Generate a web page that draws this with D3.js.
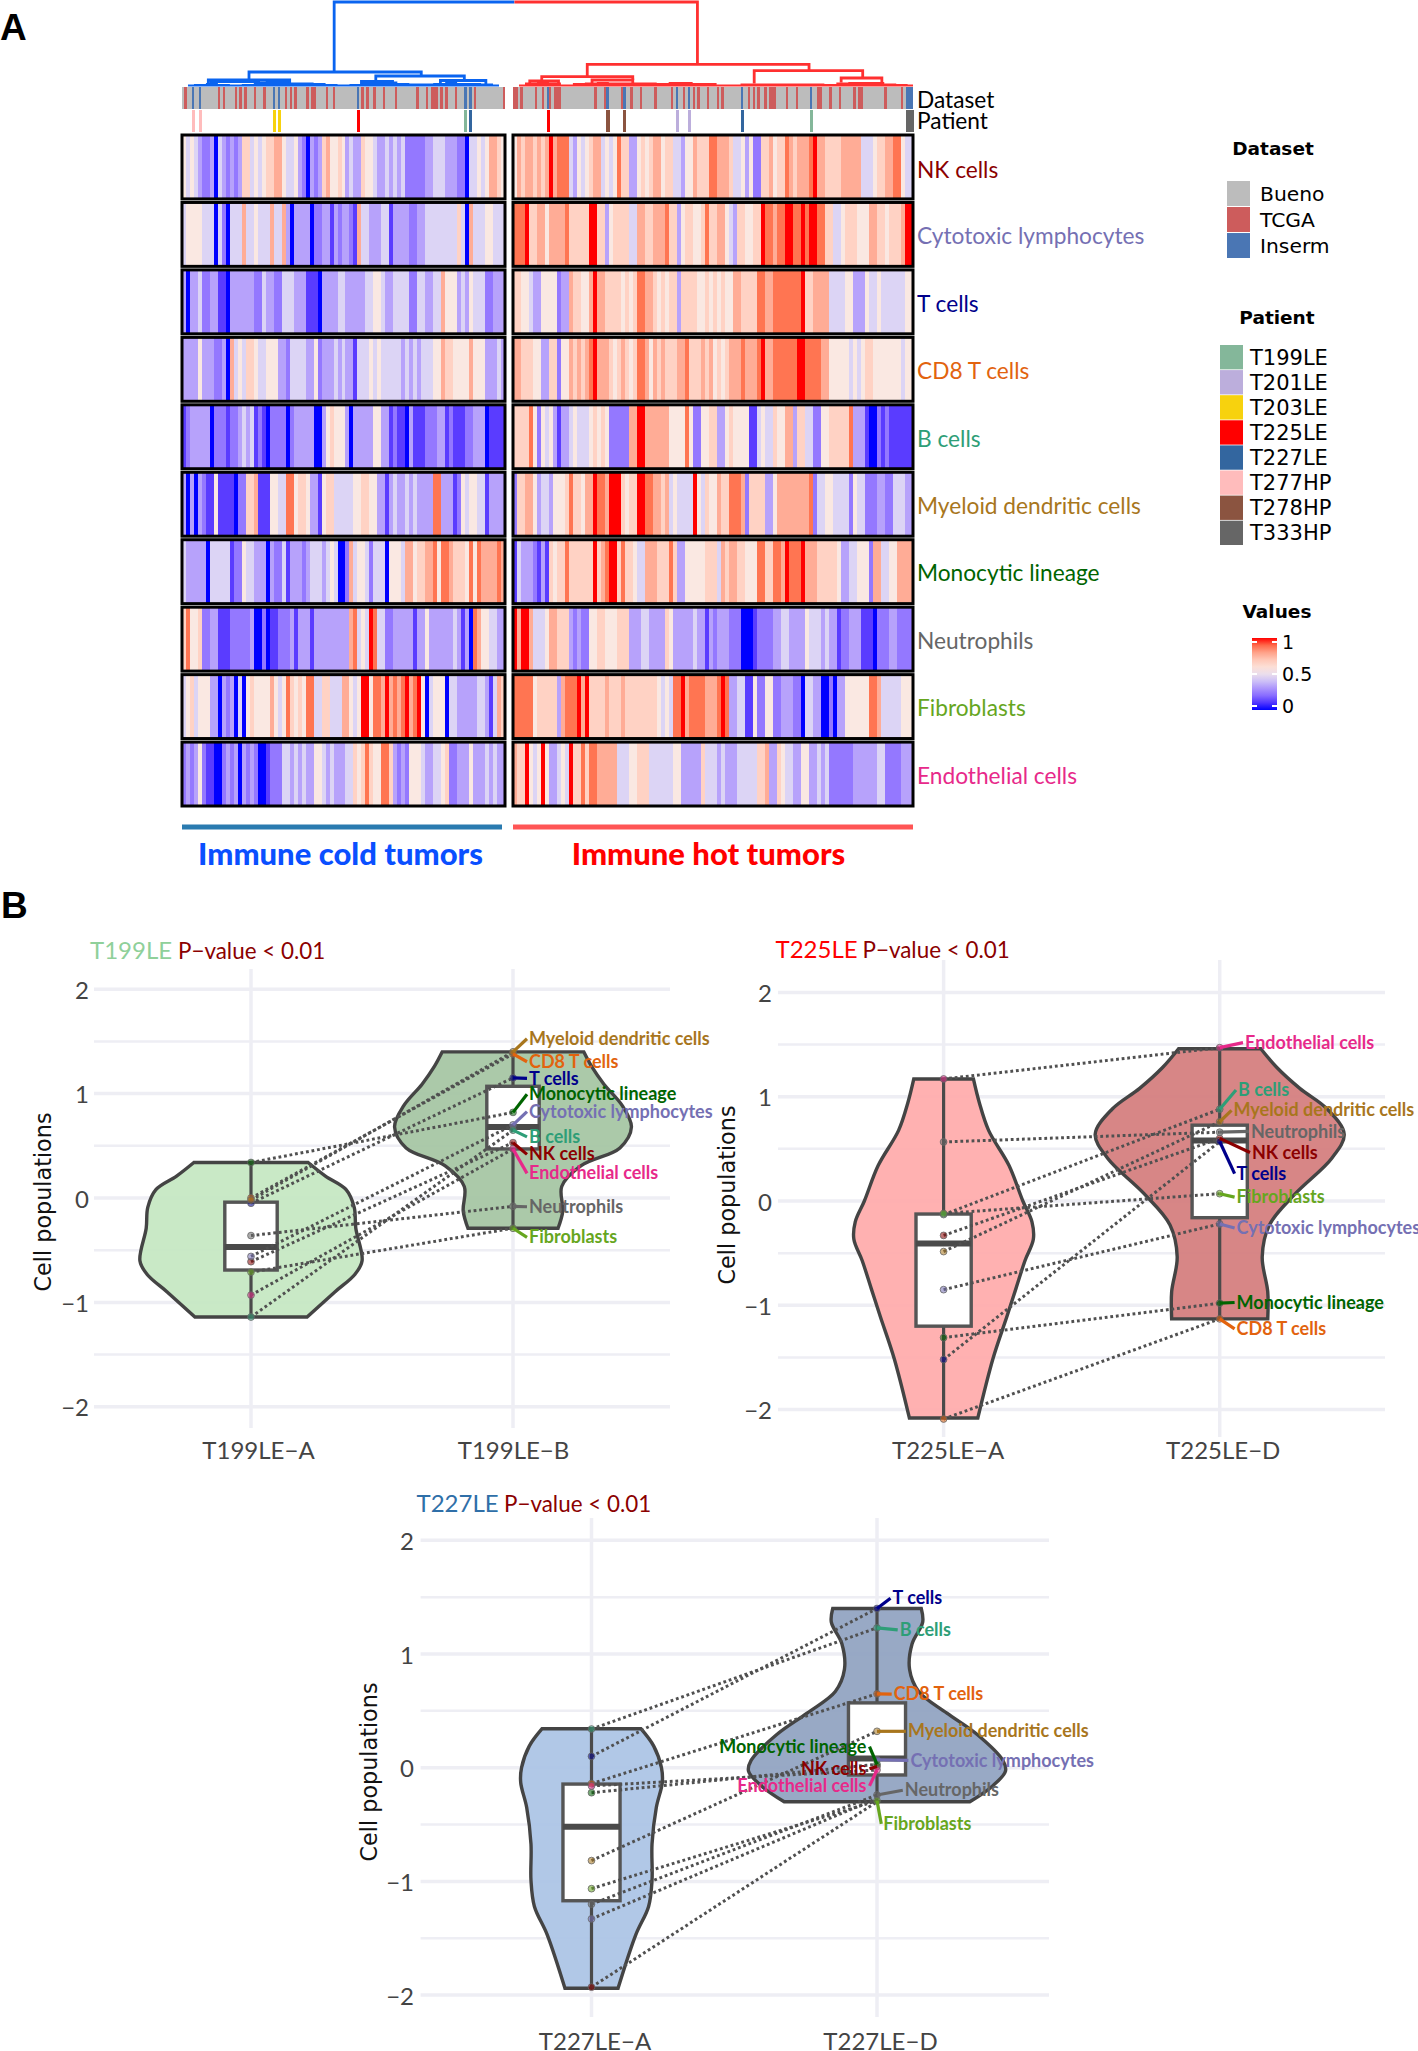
<!DOCTYPE html>
<html><head><meta charset="utf-8">
<script src="https://cdn.jsdelivr.net/npm/d3@7"></script>
<style>html,body{margin:0;padding:0;background:#fff}svg{display:block}</style>
</head><body><svg id="c" width="1418" height="2051"></svg>
<script>
// ---------- Heatmap values: deciles 0 (blue, low) to 9 (red, high), one list per cell population
const cellTypes = ["NK cells","Cytotoxic lymphocytes","T cells","CD8 T cells","B cells","Myeloid dendritic cells","Monocytic lineage","Neutrophils","Fibroblasts","Endothelial cells"];
const coldNK=[5,4,5,4,3,2,2,3,0,4,3,2,3,2,3,6,6,4,5,4,5,6,6,7,7,5,4,4,5,3,2,0,3,2,3,6,7,5,5,6,5,3,4,3,3,6,5,5,4,3,3,4,3,4,3,4,2,2,2,2,2,3,3,4,4,4,3,3,3,2,2,0,4,4,5,4,5,7,7,6,5];
const coldCyto=[4,5,5,5,5,4,4,4,0,4,2,0,4,4,4,7,4,4,5,4,4,4,7,4,4,7,3,0,3,3,3,3,0,2,2,3,3,1,3,2,3,3,2,1,7,4,4,3,3,3,4,4,1,3,3,3,3,2,2,3,3,4,4,4,4,4,4,4,4,6,4,0,7,4,4,4,5,5,4,4,4];
const coldT=[3,0,3,3,4,2,2,3,3,1,1,0,3,3,3,3,3,3,2,2,4,3,3,2,2,4,4,4,3,3,3,1,1,1,0,3,3,3,3,4,4,3,3,3,3,3,4,4,5,5,4,3,3,4,4,4,4,2,2,4,4,3,3,4,4,7,5,5,5,3,4,3,5,4,4,4,2,2,3,3,3];
const coldCD8=[3,3,3,3,5,3,3,3,2,2,3,0,7,4,5,4,6,6,5,4,4,5,5,5,3,3,2,4,4,4,4,3,3,5,2,3,3,3,4,3,4,3,3,1,4,4,4,5,4,5,4,4,4,4,4,3,4,3,4,3,4,4,4,5,5,7,6,6,5,5,5,5,7,5,5,5,3,3,3,4,3];
const coldB=[1,2,3,3,3,3,3,0,2,2,2,1,2,2,3,4,3,4,1,2,1,0,2,2,2,2,0,2,3,3,3,3,3,0,0,3,5,6,5,5,5,3,0,3,3,3,3,3,5,5,3,3,1,2,1,1,0,3,1,1,1,2,2,2,3,3,1,2,1,1,1,2,2,3,3,3,0,1,1,1,1];
const coldMyeloid=[3,0,3,0,3,2,1,1,5,1,1,1,1,0,2,2,6,6,7,1,1,1,5,5,4,4,8,8,5,6,6,5,3,3,1,5,6,6,4,4,4,4,4,5,5,6,6,5,5,3,3,1,3,4,3,3,4,3,4,3,3,3,3,8,8,3,3,3,1,2,5,4,5,5,4,4,1,3,3,3,3];
const coldMono=[4,3,3,3,3,3,0,4,4,4,4,4,1,2,2,5,4,4,3,3,3,0,3,2,2,4,1,3,3,3,2,3,4,4,4,3,4,5,4,0,0,2,7,4,5,5,4,2,4,4,4,0,5,5,5,4,7,7,5,6,6,7,7,8,5,8,8,7,6,6,6,5,8,5,8,7,7,7,7,8,7];
const coldNeut=[6,8,5,5,6,2,2,3,3,1,1,1,2,2,2,2,2,3,0,0,2,0,1,1,2,2,2,3,1,3,3,3,1,3,3,3,3,3,3,3,3,3,7,8,4,5,4,9,8,4,4,2,2,3,3,3,3,3,1,3,3,5,3,3,3,3,3,3,4,3,1,3,0,8,7,5,5,4,4,3,3];
const coldFibro=[4,5,6,4,5,5,5,3,3,0,3,2,3,0,4,0,5,6,5,5,5,5,7,5,4,5,8,6,5,6,5,8,8,4,4,6,6,4,4,4,7,7,5,4,5,9,9,5,8,8,7,9,7,8,7,8,9,7,8,9,5,0,4,5,5,5,0,4,4,3,3,3,3,3,4,4,3,1,4,7,6];
const coldEndo=[2,3,2,3,5,2,1,1,0,0,2,3,2,3,0,3,2,3,2,0,0,1,2,2,2,4,4,3,4,3,4,3,3,5,5,4,3,4,3,3,3,4,4,6,5,6,8,6,5,5,8,8,6,3,2,3,2,5,5,5,4,3,3,4,4,5,6,2,2,3,3,3,5,3,3,3,4,3,4,3,3];
const hotNK=[5,7,6,7,7,6,7,6,7,9,7,8,8,8,4,3,5,4,5,6,7,7,4,5,4,5,8,6,6,3,3,5,6,5,6,7,7,5,6,6,4,4,3,5,5,7,6,6,6,8,8,7,7,7,6,4,4,5,3,5,2,2,6,6,7,5,6,6,8,7,6,7,7,7,8,9,7,7,6,6,6,6,7,7,7,7,7,4,4,4,5,6,6,7,7,8,8,5,4,4];
const hotCyto=[8,8,8,9,6,6,7,7,5,7,7,7,7,8,6,6,6,6,6,9,9,6,6,3,5,6,6,6,6,4,4,7,7,6,6,7,7,7,8,6,6,3,5,6,6,5,5,6,8,6,6,7,7,5,4,3,6,6,5,5,6,6,9,8,8,7,8,8,9,9,8,8,9,8,9,9,8,8,6,6,4,4,5,6,6,6,5,5,5,7,7,6,6,5,6,6,6,7,9,9];
const hotT=[6,6,5,5,4,3,3,5,5,5,5,2,3,3,7,6,6,5,5,7,9,7,7,6,6,6,6,5,6,5,6,8,8,7,7,6,5,6,5,6,6,3,6,6,6,6,5,5,6,5,6,5,6,5,5,7,7,6,6,6,6,8,8,7,7,8,8,8,8,8,8,8,9,6,6,7,7,7,7,4,4,4,4,5,5,3,3,3,5,4,4,5,4,4,4,4,4,4,5,5];
const hotCD8=[7,7,6,6,6,5,5,3,3,6,6,2,5,5,7,6,7,6,7,8,9,7,7,7,6,5,6,7,6,5,6,8,8,7,5,7,6,7,6,6,6,7,7,8,6,6,6,7,6,7,5,6,5,6,7,7,7,8,7,7,7,8,9,7,7,8,8,8,8,8,8,9,9,8,8,8,8,7,7,5,5,5,5,5,4,5,4,5,6,6,5,5,5,5,5,5,5,4,5,5];
const hotB=[6,6,6,6,8,5,2,5,4,5,3,1,3,3,4,5,4,4,4,5,6,5,6,5,2,2,2,2,2,7,7,9,9,7,7,7,7,7,7,5,5,5,5,8,5,2,2,5,5,6,6,3,3,5,6,5,5,5,5,1,1,4,5,4,4,6,5,5,7,7,3,6,6,4,4,2,2,5,5,6,6,6,6,6,8,3,3,3,1,0,0,2,1,2,1,1,1,1,1,1];
const hotMyeloid=[2,6,6,7,7,5,3,4,4,3,5,5,5,6,8,6,6,5,7,7,9,8,8,7,9,9,9,6,5,6,6,9,9,8,8,7,7,6,7,4,5,4,4,4,4,9,5,4,6,5,5,7,6,6,8,8,8,7,2,6,6,6,6,3,3,5,7,7,7,7,7,7,7,7,8,2,4,4,5,5,4,4,4,4,2,5,4,4,2,2,2,3,3,2,2,4,4,4,3,3];
const hotMono=[1,4,3,3,3,2,1,3,1,6,5,6,6,8,6,6,6,6,6,6,9,6,7,8,9,9,6,8,6,6,5,4,4,7,7,7,6,6,6,8,6,3,3,5,5,5,5,5,6,6,6,4,7,6,7,7,6,6,5,5,5,8,8,6,6,8,8,7,9,8,8,8,9,7,7,7,6,6,6,6,6,5,3,3,4,4,5,5,5,2,7,7,4,4,5,5,7,7,7,7];
const hotNeut=[9,7,9,9,7,4,4,4,5,7,7,6,6,6,3,2,3,2,2,5,5,6,6,5,5,5,6,6,6,3,3,3,4,4,3,3,3,3,6,5,3,3,3,3,3,4,3,3,1,3,2,3,3,3,2,2,2,0,0,0,1,2,2,2,2,3,3,4,4,3,3,3,3,5,4,4,4,3,4,3,3,1,2,2,3,3,3,1,1,1,0,2,2,2,3,3,2,2,2,2];
const hotFibro=[8,8,8,8,8,5,6,6,6,6,6,3,7,8,8,8,9,7,9,6,6,6,6,7,6,6,6,7,6,6,6,6,6,6,6,6,5,4,5,4,8,8,9,7,8,8,8,8,7,7,7,8,9,8,3,3,4,4,1,1,5,2,2,5,5,2,2,3,3,3,2,2,0,4,4,3,3,0,0,2,0,3,3,5,5,5,5,5,5,8,8,7,4,4,4,4,4,5,5,5];
const hotEndo=[7,6,6,9,5,4,5,9,5,3,3,4,5,4,9,6,6,8,6,8,8,7,7,7,7,7,4,4,4,5,5,6,6,6,4,4,4,4,4,4,5,5,3,3,3,3,3,6,4,4,4,3,4,3,3,3,4,4,4,4,4,6,6,7,3,3,6,5,4,4,3,3,5,5,3,3,4,3,4,2,2,2,2,2,2,3,3,3,3,3,3,4,4,2,2,2,2,3,3,3];
const coldRows=[coldNK,coldCyto,coldT,coldCD8,coldB,coldMyeloid,coldMono,coldNeut,coldFibro,coldEndo];
const hotRows=[hotNK,hotCyto,hotT,hotCD8,hotB,hotMyeloid,hotMono,hotNeut,hotFibro,hotEndo];
// ---------- Annotation tracks: ordered sample ranks
const coldSampleCount=135, hotSampleCount=167;
const coldTCGA=[1,15,17,22,24,26,30,34,43,45,47,52,54,55,60,63,75,77,80,84,89,98,102,104,105,106,108,110,114,122,134];
const coldInserm=[4,7,38,40,73,118,120];
const hotTCGA=[0,1,3,9,12,15,17,18,19,34,38,45,49,53,59,66,71,75,77,81,85,87,98,100,102,105,107,108,109,114,118,127,128,132,136,142,144,145,155,162];
const hotInserm=[14,39,46,68,73,95,124,164,165,166];
const patientNames=["T199LE","T201LE","T203LE","T225LE","T227LE","T277HP","T278HP","T333HP"];
const coldPatientRanks=[118,null,[38,40],73,120,[4,7],null,null];
const hotPatientRanks=[124,[68,73],null,14,95,null,[39,46],[164,165,166]];
// ---------- Dendrogram merges: [rankA, rankB, height, dropHeightA, dropHeightB]
const coldMerges=[[63.6,138.9,84,14,null],[28,100,14,6,10],[11,45,6,3,3],[81,118,10,4,5],[12,32,4.5,1,2],[75,88,4.5,1,2],[108,127,5.5,2,2]];
const hotMerges=[[0.6,77,84,null,21.7],[31,123.6,21.7,9.3,15.3],[12,50,9.3,5,6],[33,50,6,2,2],[7,19,5,2,2],[100.7,146,15.3,2.5,8],[137,154,8,3.5,3.5]];
const coldBand=[1.5,2,3,2,1.5,2,4.5,5,5,3.5,3.5,3,2,1.5,2,4,4,4.5,3,2.5,2.5,3,4,3,3,2.5,1.5];
const hotBand=[1.5,3.5,4,3.5,1.5,3,3.5,4,3.5,3.5,3.5,3.5,3,4,4,3,3,1.5,1.5,2.5,2.5,2.5,2.5,2.5,2.5,2.5,2,3.5,4,4,4,2.5,2,1.5];
// ---------- Legends
const datasetNames=["Bueno","TCGA","Inserm"];
const datasetColors=["#bcbcbc","#cd5c5c","#4a76b4"];
const patientColors=["#84b79a","#bcaedc","#f7d20e","#ff0000","#33669f","#ffbcbc","#8b5440","#666666"];
const valueTicks=[1,0.5,0];
// ---------- Panel B
const typeColors=["#8b0000","#7570b3","#00008b","#e2630e","#2e9e77","#a8761d","#006400","#666666","#66a61e","#e7298a"];
const yTicks=[2,1,0,-1,-2];
const gridTicks=[2,1.5,1,0.5,0,-0.5,-1,-1.5,-2];
const t199Names=["T199LE−A","T199LE−B"];
const t199A=[-0.61,-0.56,-0.05,0,-1.14,-0.02,0.34,-0.36,-0.71,-0.93];
const t199B=[0.53,0.70,1.15,1.38,0.65,1.40,0.82,-0.08,-0.29,0.47];
const t199Label=[0.418,0.828,1.145,1.305,0.586,1.525,0.993,-0.084,-0.377,0.236];
const t199VA=[0.34,0.21,0.08,-0.09,-0.29,-0.6,-0.73,-0.9,-1.14];
const t199WA=[0.218,0.284,0.363,0.394,0.40,0.424,0.397,0.32,0.214];
const t199VB=[1.40,1.26,1.09,0.885,0.68,0.48,0.31,0.11,-0.125,-0.29];
const t199WB=[0.27,0.30,0.347,0.417,0.452,0.408,0.26,0.186,0.19,0.172];
const t199BoxA=[-1.14,-0.69,-0.47,-0.04,0.34];
const t199BoxB=[-0.29,0.47,0.68,1.07,1.40];
const t225Names=["T225LE−A","T225LE−D"];
const t225A=[-0.33,-0.85,-1.52,-2.09,-0.13,-0.485,-1.31,0.566,-0.12,1.17];
const t225D=[0.60,-0.22,0.57,-1.13,0.88,0.76,-0.98,0.66,0.07,1.47];
const t225Label=[0.465,-0.259,0.263,-1.226,1.064,0.869,-0.973,0.667,0.037,1.519];
const t225VA=[1.17,0.946,0.677,0.34,0,-0.2,-0.367,-0.57,-0.84,-1.11,-1.51,-2.08];
const t225WA=[0.108,0.129,0.163,0.237,0.287,0.32,0.325,0.295,0.262,0.229,0.179,0.124];
const t225VD=[1.46,1.28,1.08,0.88,0.64,0.41,0.07,-0.23,-0.535,-0.87,-1.13];
const t225WD=[0.149,0.207,0.29,0.39,0.451,0.406,0.274,0.18,0.154,0.174,0.174];
const t225BoxA=[-2.08,-1.2,-0.407,-0.125,1.17];
const t225BoxD=[-1.13,-0.16,0.58,0.727,1.46];
const t227Names=["T227LE−A","T227LE−D"];
const t227A=[-1.93,-1.33,0.10,-0.14,0.34,-0.817,-0.22,-1.2,-1.064,-0.16];
const t227D=[-0.30,-0.27,1.40,0.65,1.23,0.32,0.03,-0.24,-0.29,-0.02];
const t227Anchor=[0.01,0.07,1.40,0.65,1.23,0.32,0.03,-0.24,-0.29,-0.02];
const t227Label=[-0.01,0.064,1.49,0.647,1.212,0.32,0.186,-0.198,-0.494,-0.16];
const t227VA=[0.343,0.19,0,-0.13,-0.35,-0.67,-0.99,-1.22,-1.47,-1.94];
const t227WA=[0.173,0.218,0.245,0.248,0.227,0.212,0.212,0.2,0.155,0.093];
const t227VD=[1.40,1.28,1.09,0.865,0.67,0.48,0.29,0.064,-0.03,-0.16,-0.30];
const t227WD=[0.155,0.16,0.123,0.114,0.146,0.245,0.352,0.441,0.45,0.405,0.325];
const t227BoxA=[-1.94,-1.17,-0.52,-0.144,0.34];
const t227BoxD=[-0.30,-0.064,0.08,0.57,1.40];

// ================= drawing =================
const svg=d3.select("#c");
const NARROW="Lato, 'Noto Sans', sans-serif", WIDE="'DejaVu Sans', Verdana, sans-serif";
const heat=d3.scaleLinear().domain(d3.range(10).map(d=>d/9))
  .range(["#0000ff","#5a3cff","#9478ff","#b7a2fb","#dcd4f5","#fae8e2","#ffd2c4","#ffac96","#ff7552","#ff0000"]);
const left={x0:182,x1:505,rows:coldRows,n:coldSampleCount,band:coldBand,merges:coldMerges,tcga:coldTCGA,ins:coldInserm,pat:coldPatientRanks,den:"#0a64f0"};
const right={x0:513,x1:913,rows:hotRows,n:hotSampleCount,band:hotBand,merges:hotMerges,tcga:hotTCGA,ins:hotInserm,pat:hotPatientRanks,den:"#ff3030"};
const rowScale=d3.scaleBand().domain(cellTypes).range([135,806]).paddingInner(0.0525);
const denY=d3.scaleLinear().domain([0,84]).range([86,2]);

[left,right].forEach(p=>{
  const xs=d3.scaleBand().domain(d3.range(p.n)).range([p.x0,p.x1]);
  const xr=d3.scaleLinear().domain([0,p.n]).range([p.x0,p.x1]);
  // dendrogram
  const g=svg.append("g").attr("fill","none").attr("stroke",p.den).attr("stroke-width",2.8);
  g.append("path").attr("fill",p.den).attr("stroke","none").attr("d",
    d3.area().curve(d3.curveStep).x((d,i)=>xr(Math.min(i*5+2.5,p.n))).y0(denY(-.5)).y1(d=>denY(d))(p.band));
  p.merges.forEach(([a,b,h,ha,hb])=>{
    const path=d3.path();
    if(ha!=null){path.moveTo(xr(a),denY(ha));path.lineTo(xr(a),denY(h));}else path.moveTo(xr(a),denY(h));
    path.lineTo(xr(b),denY(h));
    if(hb!=null)path.lineTo(xr(b),denY(hb));
    g.append("path").attr("d",path.toString());
  });
  // dataset track
  const tk=svg.append("g").attr("shape-rendering","crispEdges");
  tk.append("rect").attr("x",p.x0).attr("y",87).attr("width",p.x1-p.x0).attr("height",22).attr("fill",datasetColors[0]);
  tk.selectAll(".t").data(p.tcga).join("rect").attr("x",d=>xs(d)).attr("y",87).attr("width",xs.bandwidth()).attr("height",22).attr("fill",datasetColors[1]);
  tk.selectAll(".i").data(p.ins).join("rect").attr("x",d=>xs(d)).attr("y",87).attr("width",xs.bandwidth()).attr("height",22).attr("fill",datasetColors[2]);
  // patient track
  p.pat.forEach((r,i)=>{ if(r==null)return; [].concat(r).forEach(v=>{
    tk.append("rect").attr("x",xs(v)).attr("y",110).attr("width",xs.bandwidth()*1.3).attr("height",21.5).attr("fill",patientColors[i]);
  });});
  // heat rows
  p.rows.forEach((vals,ri)=>{
    const rg=svg.append("g");
    const xc=d3.scaleBand().domain(d3.range(vals.length)).range([p.x0,p.x1]);
    const name=cellTypes[ri];
    rg.selectAll("rect").data(vals).join("rect").attr("x",(d,i)=>xc(i)).attr("y",rowScale(name))
      .attr("width",xc.bandwidth()+.4).attr("height",rowScale.bandwidth()).attr("fill",d=>heat(d/9)).attr("shape-rendering","crispEdges");
    rg.append("rect").attr("x",p.x0).attr("y",rowScale(name)).attr("width",p.x1-p.x0).attr("height",rowScale.bandwidth())
      .attr("fill","none").attr("stroke","#000").attr("stroke-width",3);
  });
});
// row labels
svg.selectAll(".rl").data(cellTypes).join("text").attr("x",917).attr("y",(d,i)=>rowScale(d)+rowScale.bandwidth()/2+(i==0?5:4))
  .attr("dominant-baseline","middle").attr("font-family",NARROW).attr("font-size",22.7).attr("fill",(d,i)=>typeColors[i]).text(d=>d);
[["Dataset",102],["Patient",123.5]].forEach(([t,y])=>svg.append("text").attr("x",917).attr("y",y).attr("dominant-baseline","middle")
  .attr("font-family",NARROW).attr("font-size",22.7).attr("fill","#000").text(t));

// panel letters
[["A",0,40],["B",1,918]].forEach(([t,x,y])=>svg.append("text").attr("x",x).attr("y",y).attr("font-family","'Liberation Sans',sans-serif")
  .attr("font-weight",700).attr("font-size",37).text(t));
// group bars
svg.append("rect").attr("x",182).attr("y",824.5).attr("width",320).attr("height",5).attr("fill","#2a7bb0");
svg.append("rect").attr("x",513).attr("y",824.5).attr("width",400).attr("height",5).attr("fill","#ff5555");
[["Immune cold tumors",340.5,"#0a4fff"],["Immune hot tumors",708.5,"#ff0000"]].forEach(([t,x,c])=>svg.append("text").attr("x",x).attr("y",857.5)
  .attr("text-anchor","middle").attr("dominant-baseline","middle").attr("font-family",NARROW).attr("font-weight",900).attr("font-size",31).attr("fill",c).text(t));

// legends
function legendTitle(t,x,y){svg.append("text").attr("x",x).attr("y",y).attr("text-anchor","middle").attr("dominant-baseline","middle")
  .attr("font-family",WIDE).attr("font-weight",700).attr("font-size",18.5).attr("fill","#000").text(t);}
legendTitle("Dataset",1273,150);legendTitle("Patient",1277,319);legendTitle("Values",1277,613);
const dsY=d3.scaleBand().domain(datasetNames).range([181,258]).paddingInner(0.04);
svg.selectAll(".ds").data(datasetNames).join("rect").attr("x",1227).attr("y",d=>dsY(d)).attr("width",23).attr("height",dsY.bandwidth()).attr("fill",(d,i)=>datasetColors[i]);
svg.selectAll(".dst").data(datasetNames).join("text").attr("x",1260).attr("y",d=>dsY(d)+dsY.bandwidth()/2+2).attr("dominant-baseline","middle")
  .attr("font-family",WIDE).attr("font-size",20.3).text(d=>d);
const ptY=d3.scaleBand().domain(patientNames).range([345,545]).paddingInner(0.03);
svg.selectAll(".pt").data(patientNames).join("rect").attr("x",1220).attr("y",d=>ptY(d)).attr("width",23).attr("height",ptY.bandwidth()).attr("fill",(d,i)=>patientColors[i]);
svg.selectAll(".ptt").data(patientNames).join("text").attr("x",1250).attr("y",d=>ptY(d)+ptY.bandwidth()/2+1.5).attr("dominant-baseline","middle")
  .attr("font-family",WIDE).attr("font-size",21).text(d=>d);
const defs=svg.append("defs");
const lg=defs.append("linearGradient").attr("id","vg").attr("x1",0).attr("x2",0).attr("y1",0).attr("y2",1);
d3.range(0,1.01,.1).forEach(t=>lg.append("stop").attr("offset",t).attr("stop-color",heat(1-t)));
const vY=d3.scaleLinear().domain([0,1]).range([706,642]);
svg.append("rect").attr("x",1252).attr("y",638).attr("width",25).attr("height",72).attr("fill","url(#vg)");
valueTicks.forEach(v=>{
  svg.append("text").attr("x",1282).attr("y",vY(v)+1.5).attr("dominant-baseline","middle").attr("font-family",WIDE).attr("font-size",19).text(v);
  [1252,1272].forEach(x=>svg.append("rect").attr("x",x).attr("y",vY(v)-1).attr("width",5).attr("height",2).attr("fill","#fff"));
});

// violin panels
const vCurve=d3.curveCatmullRom.alpha(0.5);
function panel(o){
  const g=svg.append("g");
  const x=d3.scaleLinear().domain([0,1]).range([o.xA,o.xB]);
  const y=d3.scaleLinear().domain([0,1]).range([o.y0,o.y0-o.unit]);
  gridTicks.forEach(v=>g.append("line").attr("x1",o.gx0).attr("x2",o.gx1).attr("y1",y(v)).attr("y2",y(v))
    .attr("stroke","#eeeef4").attr("stroke-width",Number.isInteger(v)?3.5:2.5));
  [0,1].forEach(v=>g.append("line").attr("x1",x(v)).attr("x2",x(v)).attr("y1",o.vt).attr("y2",o.vb).attr("stroke","#eeeef4").attr("stroke-width",3.5));
  // y axis
  const ya=g.append("g").attr("transform",`translate(${o.tickX},1.5)`).call(d3.axisLeft(y).tickValues(yTicks).tickSize(0).tickPadding(0).tickFormat(d=>String(d).replace("-","−")));
  ya.select(".domain").remove();
  ya.selectAll("text").attr("font-family",NARROW).attr("font-size",24).attr("fill","#444");
  // x axis
  const xa=g.append("g").attr("transform",`translate(0,${o.xTickY+2})`).call(d3.axisBottom(x).tickValues([0,1]).tickSize(0).tickPadding(0).tickFormat((d,i)=>o.names[i]));
  xa.select(".domain").remove();
  xa.selectAll("text").attr("font-family",NARROW).attr("font-size",24).attr("fill","#444").attr("dy",0).attr("dominant-baseline","middle")
    .attr("dx",(d,i)=>o.tickDx[i]);
  // y title
  g.append("text").attr("transform",`translate(${o.yTitleX},${o.yTitleY}) rotate(-90)`).attr("text-anchor","middle").attr("dominant-baseline","middle")
    .attr("font-family",WIDE).attr("font-size",22.3).attr("fill","#111").text("Cell populations");
  // title
  g.append("text").attr("x",o.titleX).attr("y",o.titleY+2).attr("dominant-baseline","middle").attr("font-family",NARROW).attr("font-size",24).attr("fill",o.titleColor).text(o.title);
  g.append("text").attr("x",o.pX).attr("y",o.titleY+2).attr("dominant-baseline","middle").attr("font-family",NARROW).attr("font-size",22.4).attr("fill","#8b0000").text("P−value < 0.01");
  // violins
  o.violins.forEach((v,i)=>{
    const pts=[...v.vals.map((d,k)=>[x(i)+x(v.w[k])-x(0),y(d)]),...v.vals.map((d,k)=>[x(i)-x(v.w[k])+x(0),y(d)]).reverse()];
    const n=v.vals.length;
    const rightSide=d3.line().curve(vCurve)(pts.slice(0,n));
    const leftSide=d3.line().curve(vCurve)(pts.slice(n));
    g.append("path").attr("d",rightSide+"L"+leftSide.slice(1)+"Z").attr("fill",v.fill).attr("fill-opacity",.92).attr("stroke","#444").attr("stroke-width",3.4);
  });
  // boxes
  o.boxes.forEach((b,i)=>{
    const bw=x(0.1)-x(0);
    g.append("line").attr("x1",x(i)).attr("x2",x(i)).attr("y1",y(b[0])).attr("y2",y(b[4])).attr("stroke","#4a4a4a").attr("stroke-width",3.2);
    g.append("rect").attr("x",x(i)-bw).attr("y",y(b[3])).attr("width",2*bw).attr("height",y(b[1])-y(b[3])).attr("fill","#fff").attr("stroke","#555").attr("stroke-width",3.4);
    g.append("line").attr("x1",x(i)-bw).attr("x2",x(i)+bw).attr("y1",y(b[2])).attr("y2",y(b[2])).attr("stroke","#4a4a4a").attr("stroke-width",6);
  });
  // dotted connectors
  const typeIdx=d3.range(10);
  g.selectAll(".ln").data(typeIdx).join("line").attr("x1",x(0)).attr("x2",x(1)).attr("y1",k=>y(o.a[k])).attr("y2",k=>y(o.b[k]))
    .attr("stroke","#505050").attr("stroke-width",3).attr("stroke-dasharray","2.8 2.8");
  // dots
  const anchor=o.anchor||o.b;
  g.selectAll(".da").data(typeIdx).join("circle").attr("cx",x(0)).attr("cy",k=>y(o.a[k])).attr("r",3.4).attr("fill",k=>typeColors[k]).attr("fill-opacity",.55).attr("stroke","#666").attr("stroke-width",.8);
  g.selectAll(".db").data(typeIdx).join("circle").attr("cx",x(1)).attr("cy",k=>y(anchor[k])).attr("r",3.4).attr("fill",k=>typeColors[k]).attr("fill-opacity",.55).attr("stroke","#666").attr("stroke-width",.8);
  // annotations
  g.selectAll(".ar").data(typeIdx).join("line").attr("x1",x(1)).attr("y1",k=>y(anchor[k])).attr("x2",k=>o.labX[k]+(o.labEnd[k]?3:-2)).attr("y2",k=>y(o.lab[k]))
    .attr("stroke",k=>typeColors[k]).attr("stroke-width",3.2);
  g.selectAll(".tx").data(typeIdx).join("text").attr("x",k=>o.labX[k]).attr("y",k=>y(o.lab[k])+1.5).attr("text-anchor",k=>o.labEnd[k]?"end":"start")
    .attr("dominant-baseline","middle").attr("font-family",NARROW).attr("font-weight",700).attr("font-size",18).attr("fill",k=>typeColors[k]).text(k=>cellTypes[k]);
}
const repeat=(v,n)=>d3.range(n).map(()=>v);
panel({xA:251,xB:513,y0:1198,unit:104.4,gx0:94,gx1:670,vt:969,vb:1428,tickX:89,xTickY:1451,tickDx:[7,0],names:t199Names,
  yTitleX:44.5,yTitleY:1202,title:"T199LE",titleColor:"#8fd09a",titleX:90,pX:178,titleY:951,
  a:t199A,b:t199B,lab:t199Label,labX:repeat(529,10),labEnd:repeat(false,10),
  violins:[{vals:t199VA,w:t199WA,fill:"#c4e7c1"},{vals:t199VB,w:t199WB,fill:"#a4c4a2"}],boxes:[t199BoxA,t199BoxB]});
panel({xA:943.6,xB:1219.7,y0:1201,unit:104.3,gx0:778,gx1:1385,vt:960,vb:1437,tickX:772,xTickY:1451,tickDx:[4,3],names:t225Names,
  yTitleX:728,yTitleY:1195,title:"T225LE",titleColor:"#ff0000",titleX:775.5,pX:862.5,titleY:950,
  a:t225A,b:t225D,lab:t225Label,labX:[1252,1236.6,1236.6,1236.6,1238,1233.5,1236.6,1251,1236.6,1245],labEnd:repeat(false,10),
  violins:[{vals:t225VA,w:t225WA,fill:"#ffaaaa"},{vals:t225VD,w:t225WD,fill:"#d47c7c"}],boxes:[t225BoxA,t225BoxD]});
panel({xA:591.5,xB:877,y0:1767.7,unit:113.7,gx0:420.6,gx1:1049,vt:1518,vb:2017,tickX:414,xTickY:2042,tickDx:[3,3],names:t227Names,
  yTitleX:370.6,yTitleY:1772,title:"T227LE",titleColor:"#2f6fa8",titleX:416.5,pX:504,titleY:1504,
  a:t227A,b:t227D,anchor:t227Anchor,lab:t227Label,labX:[866.5,910.4,892.5,893.7,899.7,907.9,866.5,904.8,883.3,866.5],labEnd:[true,false,false,false,false,false,true,false,false,true],
  violins:[{vals:t227VA,w:t227WA,fill:"#aac3e5"},{vals:t227VD,w:t227WD,fill:"#8fa2c0"}],boxes:[t227BoxA,t227BoxD]});
</script></body></html>
